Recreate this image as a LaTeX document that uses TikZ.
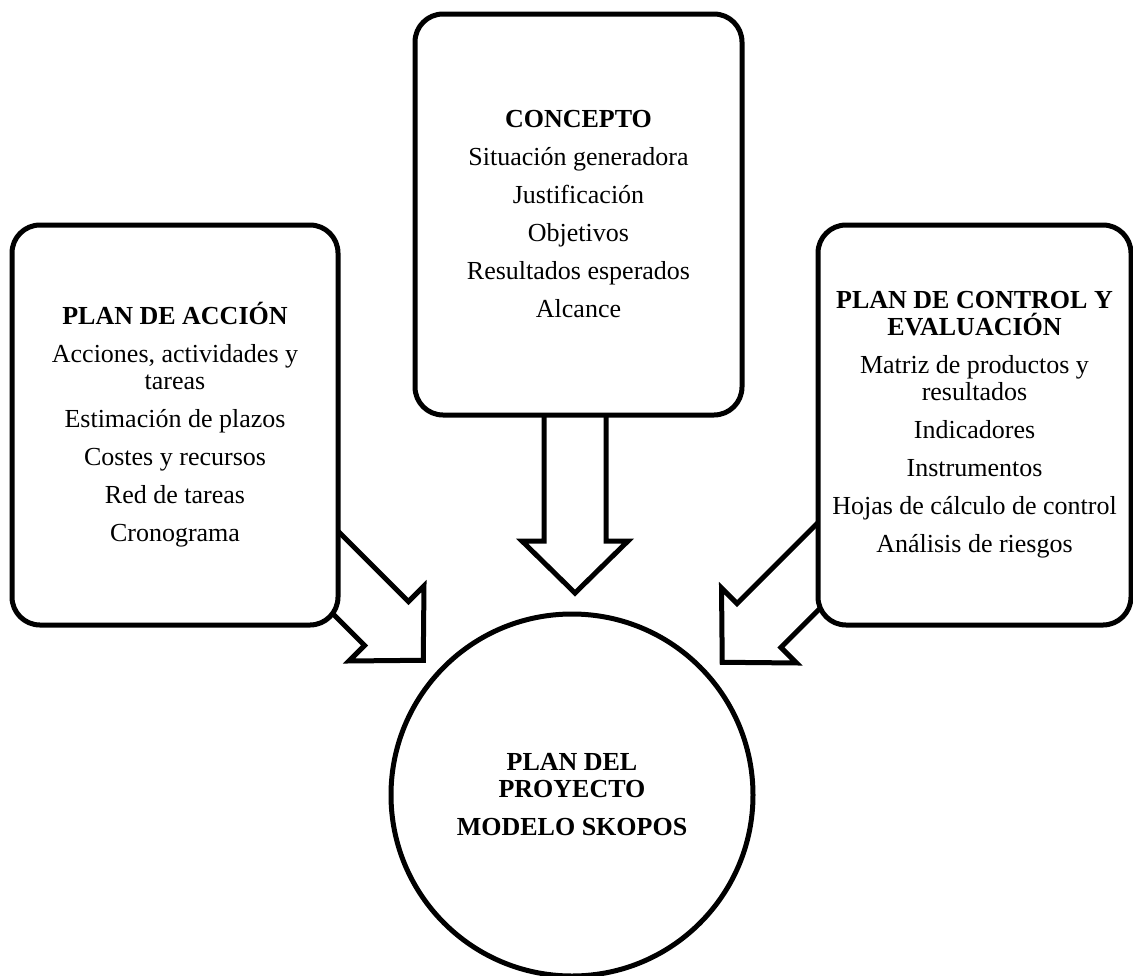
\documentclass[tikz,border=0pt]{standalone}
\usepackage{fontspec}
\setmainfont{Liberation Serif}
\begin{document}
\begin{tikzpicture}[x=1pt,y=-1pt,
  boxstyle/.style={draw, line width=5pt, rounded corners=28pt, fill=white,
    align=center, inner sep=0pt, font=\fontsize{26}{27}\selectfont},
  circstyle/.style={draw, circle, line width=5pt, fill=white,
    align=center, inner sep=0pt, font=\fontsize{26}{27}\selectfont},
  arrowline/.style={draw, line width=5pt, fill=white, line join=miter},
  blockarrow/.pic={
    \path[arrowline] (-160,-31) -- (0,-31) -- (0,-53) -- (52,0) -- (0,53) -- (0,31) -- (-160,31) -- cycle;
  }]
\useasboundingbox (0,0) rectangle (1133,975);
% block arrows (drawn first, tails hidden under the boxes)
\coordinate (lbase) at (386.5,623.5);
\coordinate (cbase) at (575,541);
\coordinate (rbase) at (759,625.5);
\pic[rotate=-45] at (lbase) {blockarrow};
\pic[rotate=-90] at (cbase) {blockarrow};
\pic[rotate=-135] at (rbase) {blockarrow};
% boxes
\node[boxstyle, minimum width=327pt, minimum height=401pt] (concepto) at (578.5,214.5)
  {\textbf{CONCEPTO}\\[11pt]
   Situación generadora\\[11pt]
   Justificación\\[11pt]
   Objetivos\\[11pt]
   Resultados esperados\\[11pt]
   Alcance};
\node[boxstyle, minimum width=326pt, minimum height=400pt] (accion) at (175,425)
  {\textbf{PLAN DE ACCIÓN}\\[11pt]
   Acciones, actividades y\\
   tareas\\[11pt]
   Estimación de plazos\\[11pt]
   Costes y recursos\\[11pt]
   Red de tareas\\[11pt]
   Cronograma};
\node[boxstyle, minimum width=313pt, minimum height=400pt] (control) at (974.5,425)
  {\textbf{PLAN DE CONTROL Y}\\
   \textbf{EVALUACIÓN}\\[11pt]
   Matriz de productos y\\
   resultados\\[11pt]
   Indicadores\\[11pt]
   Instrumentos\\[11pt]
   Hojas de cálculo de control\\[11pt]
   Análisis de riesgos};
\node[circstyle, minimum size=362pt] (plan) at (572,795)
  {\textbf{PLAN DEL}\\
   \textbf{PROYECTO}\\[11pt]
   \textbf{MODELO SKOPOS}};
\end{tikzpicture}
\end{document}
